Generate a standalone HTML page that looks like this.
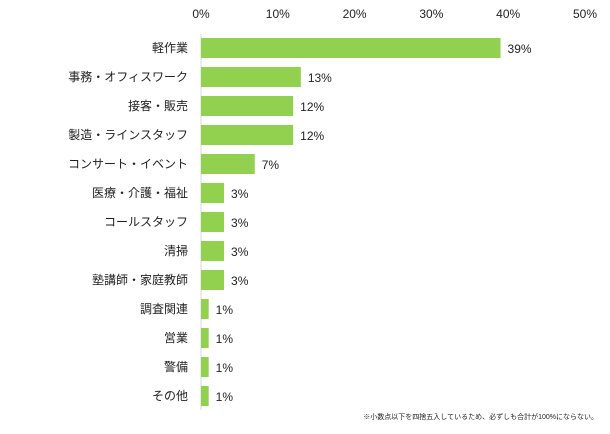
<!DOCTYPE html>
<html><head><meta charset="utf-8"><style>
body{margin:0;background:#fff;width:610px;height:429px;overflow:hidden}
text{font-family:"Liberation Sans","Noto Sans CJK JP",sans-serif;fill:#222}
</style></head><body>
<svg id="chart" width="610" height="429" xmlns="http://www.w3.org/2000/svg"></svg>
<script>
const categories=["軽作業","事務・オフィスワーク","接客・販売","製造・ラインスタッフ","コンサート・イベント","医療・介護・福祉","コールスタッフ","清掃","塾講師・家庭教師","調査関連","営業","警備","その他"];
const values=[39,13,12,12,7,3,3,3,3,1,1,1,1];
const ticks=[0,10,20,30,40,50];
const svg=document.getElementById('chart');
const NS='http://www.w3.org/2000/svg';
const x=v=>201+v*7.68;
const yc=i=>48+i*29;
function mk(t,a){const e=document.createElementNS(NS,t);for(const k in a)e.setAttribute(k,a[k]);svg.appendChild(e);return e;}
ticks.forEach(t=>{const e=mk('text',{x:x(t),y:18,'text-anchor':'middle','font-size':12});e.textContent=t+'%';

});
const ax=mk('line',{x1:201,x2:201,y1:34,y2:410,stroke:'#d9d9d9','stroke-width':1});


categories.forEach((c,i)=>{
const l=mk('text',{x:188,y:yc(i)+4,'text-anchor':'end','font-size':12});l.textContent=c;


const b=mk('rect',{x:x(0),y:yc(i)-10,width:x(values[i])-x(0),height:20,fill:'#92d050'});


const v=mk('text',{x:x(values[i])+7,y:yc(i)+5,'font-size':12});v.textContent=values[i]+'%';


});
const f=mk('text',{x:598,y:419,'text-anchor':'end','font-size':7,fill:'#333'});
f.textContent='※小数点以下を四捨五入しているため、必ずしも合計が100%にならない。';


</script>
</body></html>
